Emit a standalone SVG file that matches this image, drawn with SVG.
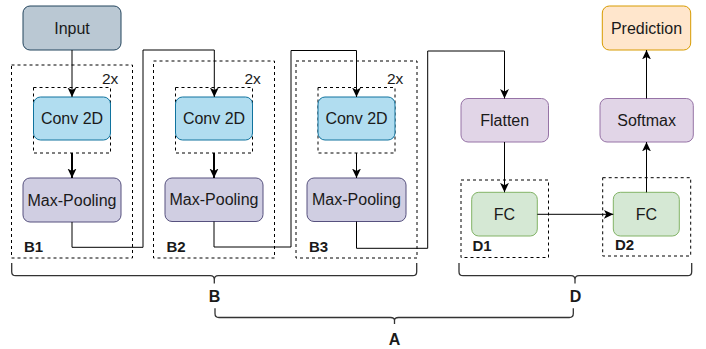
<svg xmlns="http://www.w3.org/2000/svg" width="706" height="349" viewBox="0 0 706 349">
<defs>
<marker id="arr" markerUnits="userSpaceOnUse" markerWidth="10" markerHeight="10" viewBox="0 0 9 8" refX="8.5" refY="4" orient="auto">
<path d="M0,0 L8.5,4 L0,8 L2.2,4 z" fill="#000"/>
</marker>
<style>
text{font-family:"Liberation Sans",Arial,sans-serif;fill:#1a1a1a}
.n{font-size:16px;text-anchor:middle}
.lbl{font-size:15px;font-weight:bold}
.big{font-size:16px;font-weight:bold;text-anchor:middle}
.rep{font-size:15.5px}
.dash{fill:none;stroke:#000;stroke-width:1;stroke-dasharray:3 3}
.input{fill:#bac8d3;stroke:#23445d}
.conv{fill:#b1ddf0;stroke:#10739e}
.pool{fill:#d0cee2;stroke:#56517e}
.purp{fill:#e1d5e7;stroke:#9673a6}
.fc{fill:#d5e8d4;stroke:#82b366}
.pred{fill:#ffe6cc;stroke:#d79b00}
.c{fill:none;stroke:#000;stroke-width:1}
.ca{fill:none;stroke:#000;stroke-width:1;marker-end:url(#arr)}
.cb{fill:none;stroke:#000;stroke-width:2;marker-end:url(#arr)}
.br{fill:none;stroke:#333;stroke-width:1.3}
</style>
</defs>

<g id="input"><rect class="input" x="23" y="6" width="98" height="44" rx="7"/><text class="n" x="72" y="33.6">Input</text></g>

<g id="B1">
<rect class="dash" x="11.5" y="65" width="121" height="193"/>
<text class="lbl" x="24" y="252">B1</text>
<text class="rep" x="102" y="83.5">2x</text>
<rect class="dash" x="33.5" y="87.5" width="77" height="65.5"/>
<g id="conv1"><rect class="conv" x="33.5" y="97" width="77" height="43" rx="7"/><text class="n" x="72" y="124">Conv 2D</text></g>
<g id="pool1"><rect class="pool" x="23" y="178" width="98" height="44" rx="7"/><text class="n" x="72" y="205.6">Max-Pooling</text></g>
</g>

<g id="B2">
<rect class="dash" x="153.5" y="61" width="121" height="197"/>
<text class="lbl" x="166.5" y="252">B2</text>
<text class="rep" x="244.5" y="83.5">2x</text>
<rect class="dash" x="175.5" y="87.5" width="77" height="65.5"/>
<g id="conv2"><rect class="conv" x="175.5" y="97" width="77" height="43" rx="7"/><text class="n" x="214" y="124">Conv 2D</text></g>
<g id="pool2"><rect class="pool" x="165" y="178" width="98" height="43.5" rx="7"/><text class="n" x="214" y="205.4">Max-Pooling</text></g>
</g>

<g id="B3">
<rect class="dash" x="296" y="61" width="121" height="197"/>
<text class="lbl" x="309" y="252">B3</text>
<text class="rep" x="387" y="83.5">2x</text>
<rect class="dash" x="318" y="87.5" width="77" height="65.5"/>
<g id="conv3"><rect class="conv" x="318" y="97" width="77" height="43" rx="7"/><text class="n" x="356.5" y="124">Conv 2D</text></g>
<g id="pool3"><rect class="pool" x="307" y="178" width="99" height="43.5" rx="7"/><text class="n" x="356.5" y="205.4">Max-Pooling</text></g>
</g>

<g id="flatten"><rect class="purp" x="461" y="98.5" width="87.5" height="43.5" rx="7"/><text class="n" x="504.7" y="126">Flatten</text></g>

<g id="D1">
<rect class="dash" x="461" y="180" width="87.5" height="77.5"/>
<text class="lbl" x="472.5" y="250.5">D1</text>
<g id="fc1"><rect class="fc" x="471.7" y="192.3" width="65.6" height="43.7" rx="7"/><text class="n" x="504.5" y="219.8">FC</text></g>
</g>

<g id="D2">
<rect class="dash" x="602.7" y="177.7" width="88" height="78.3"/>
<text class="lbl" x="615" y="250">D2</text>
<g id="fc2"><rect class="fc" x="613.3" y="192.3" width="66" height="43.7" rx="7"/><text class="n" x="646.3" y="219.8">FC</text></g>
</g>

<g id="softmax"><rect class="purp" x="600" y="98.5" width="93.3" height="43.5" rx="7"/><text class="n" x="646.6" y="126">Softmax</text></g>

<g id="prediction"><rect class="pred" x="602.3" y="6" width="88.4" height="44" rx="7"/><text class="n" x="646.5" y="33.6">Prediction</text></g>

<g id="connectors">
<path class="ca" d="M72,50 V97"/>
<path class="cb" d="M72,153 V178"/>
<path class="ca" d="M72,222 V247.3 H143 V50 H214.3 V97"/>
<path class="cb" d="M214,153 V178"/>
<path class="ca" d="M214,221.5 V247 H291 V50.5 H356.5 V97"/>
<path class="ca" d="M356.5,153 V178"/>
<path class="ca" d="M356.5,221.5 V248.3 H427.7 V51 H504.5 V98.5"/>
<path class="ca" d="M504.5,142 V192.3"/>
<path class="ca" d="M537.3,214.3 H613.3"/>
<path class="ca" d="M646.5,192.3 V142"/>
<path class="ca" d="M646.5,98.5 V50"/>
</g>

<g id="braces">
<path class="br" d="M11.7,263 V271.7 Q11.7,275.7 15.7,275.7 H210.3 Q214.3,275.7 214.3,279.7 V283.5 M214.3,279.7 Q214.3,275.7 218.3,275.7 H412.7 Q416.7,275.7 416.7,271.7 V263"/>
<text class="big" x="214.5" y="301.5">B</text>
<path class="br" d="M459,263 V271.7 Q459,275.7 463,275.7 H571 Q575,275.7 575,279.7 V283.5 M575,279.7 Q575,275.7 579,275.7 H687.7 Q691.7,275.7 691.7,271.7 V263"/>
<text class="big" x="575.5" y="301.5">D</text>
<path class="br" d="M215,308.3 V313.5 Q215,317.5 219,317.5 H390.5 Q394.5,317.5 394.5,320.5 V324 M394.5,320.5 Q394.5,317.5 398.5,317.5 H569.3 Q573.3,317.5 573.3,313.5 V308.3"/>
<text class="big" x="394.5" y="345">A</text>
</g>
</svg>
